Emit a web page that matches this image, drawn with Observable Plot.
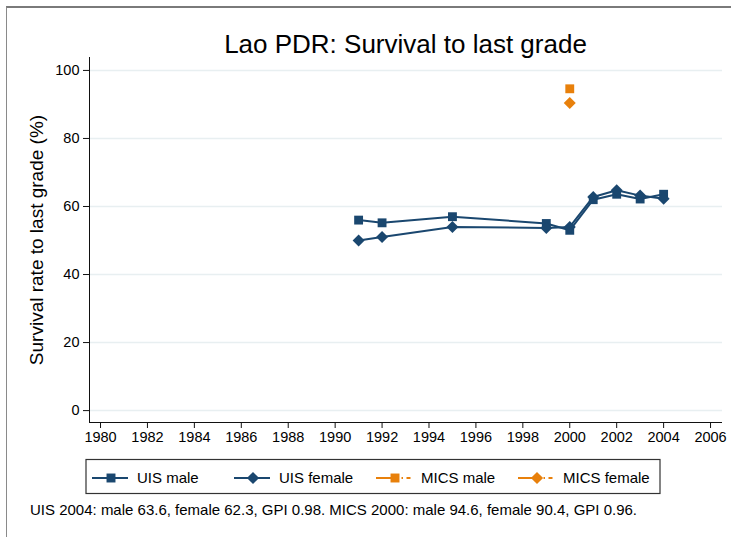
<!DOCTYPE html>
<html>
<head>
<meta charset="utf-8">
<script src="https://cdn.jsdelivr.net/npm/d3@7"></script>
<script src="https://cdn.jsdelivr.net/npm/@observablehq/plot@0.6"></script>
<style>
  html, body { margin: 0; padding: 0; background: #fff; }
  #wrap { position: relative; width: 731px; height: 537px; overflow: hidden; background: #fff;
          font-family: "Liberation Sans", Arial, Helvetica, sans-serif; color: #000; }
  #frame { position: absolute; left: 6px; top: 6px; width: 800px; height: 600px;
           border-top: 2px solid #7a7a7a; border-left: 1px solid #8a8a8a; }
  #title { position: absolute; left: 89px; width: 633px; top: 30px; text-align: center;
           font-size: 26px; line-height: 28px; }
  #chart { position: absolute; left: 0; top: 50px; }
  #legend { position: absolute; left: 0; top: 455px; }
  #caption { position: absolute; left: 30px; top: 501px; font-size: 15px; line-height: 18px; white-space: nowrap; }
</style>
</head>
<body>
<div id="wrap">
  <div id="frame"></div>
  <div id="title">Lao PDR: Survival to last grade</div>
  <div id="chart"></div>
  <div id="legend"></div>
  <div id="caption">UIS 2004: male 63.6, female 62.3, GPI 0.98. MICS 2000: male 94.6, female 90.4, GPI 0.96.</div>
</div>
<script>
// ---- data ----
const uisYears = [1991, 1992, 1995, 1999, 2000, 2001, 2002, 2003, 2004];
const uisMale = [56.0, 55.2, 57.0, 55.0, 53.0, 62.0, 63.6, 62.2, 63.6];
const uisFemale = [50.0, 51.0, 54.0, 53.7, 54.0, 62.8, 64.8, 63.2, 62.3];
const micsYears = [2000];
const micsMale = [94.6];
const micsFemale = [90.4];
const xTicks = [1980, 1982, 1984, 1986, 1988, 1990, 1992, 1994, 1996, 1998, 2000, 2002, 2004, 2006];
const yTicks = [0, 20, 40, 60, 80, 100];
const yLabel = "Survival rate to last grade (%)";
const seriesNames = ["UIS male", "UIS female", "MICS male", "MICS female"];

// ---- config ----
const navy = "#1a476f";
const orange = "#e8800b";
const xDomain = [1979.53, 2006.51];
const yDomain = [-3.5, 103.8];

const uisM = uisYears.map((y, i) => ({year: y, value: uisMale[i]}));
const uisF = uisYears.map((y, i) => ({year: y, value: uisFemale[i]}));
const micsM = micsYears.map((y, i) => ({year: y, value: micsMale[i]}));
const micsF = micsYears.map((y, i) => ({year: y, value: micsFemale[i]}));

const plot = Plot.plot({
  width: 731,
  height: 400,
  marginLeft: 89,
  marginRight: 9,
  marginTop: 7,
  marginBottom: 28,
  style: {fontFamily: "'Liberation Sans', Arial, sans-serif", background: "transparent", color: "#000"},
  x: {domain: xDomain, axis: null},
  y: {domain: yDomain, axis: null},
  marks: [
    Plot.gridY(yTicks, {stroke: "#e8eff1", strokeOpacity: 1, strokeWidth: 1.5}),
    Plot.ruleX([xDomain[0]], {stroke: "#111", strokeWidth: 1}),
    Plot.ruleY([yDomain[0]], {stroke: "#111", strokeWidth: 1}),
    Plot.axisY(yTicks, {tickSize: 6, tickPadding: 4, fontSize: 14.5, label: null, stroke: "#111"}),
    Plot.axisX(xTicks, {tickSize: 6, tickPadding: 3, fontSize: 14.5, label: null, tickFormat: d => String(d), stroke: "#111"}),
    Plot.text([yLabel], {frameAnchor: "left", textAnchor: "middle", lineAnchor: "middle", rotate: -90, dx: -53, fontSize: 19, fill: "#000"}),
    Plot.line(uisM, {x: "year", y: "value", stroke: navy, strokeWidth: 2}),
    Plot.line(uisF, {x: "year", y: "value", stroke: navy, strokeWidth: 2}),
    Plot.dot(uisM, {x: "year", y: "value", symbol: "square", r: 5, fill: navy}),
    Plot.dot(uisF, {x: "year", y: "value", symbol: "diamond2", r: 5.4, fill: navy}),
    Plot.dot(micsM, {x: "year", y: "value", symbol: "square", r: 5, fill: orange}),
    Plot.dot(micsF, {x: "year", y: "value", symbol: "diamond2", r: 5.4, fill: orange})
  ]
});
document.getElementById("chart").appendChild(plot);

// ---- legend ----
const legendItems = [
  {name: seriesNames[0], color: navy, symbol: d3.symbolSquare, size: 80, dashed: false},
  {name: seriesNames[1], color: navy, symbol: d3.symbolDiamond2, size: 95, dashed: false},
  {name: seriesNames[2], color: orange, symbol: d3.symbolSquare, size: 80, dashed: true},
  {name: seriesNames[3], color: orange, symbol: d3.symbolDiamond2, size: 95, dashed: true}
];
const lsvg = d3.select("#legend").append("svg").attr("width", 731).attr("height", 45);
lsvg.append("rect").attr("x", 86).attr("y", 4.5).attr("width", 574).attr("height", 34)
  .attr("fill", "#fff").attr("stroke", "#333").attr("stroke-width", 1.2);
const cy = 23;
legendItems.forEach((it, i) => {
  const cx = 92 + i * 142;
  const g = lsvg.append("g");
  const ln = g.append("line").attr("x1", cx).attr("x2", cx + 36).attr("y1", cy).attr("y2", cy)
    .attr("stroke", it.color).attr("stroke-width", 2);
  if (it.dashed) ln.attr("stroke-dasharray", "22 3.5 1.5 3.5 4 20");
  g.append("path").attr("d", d3.symbol(it.symbol, it.size)())
    .attr("transform", `translate(${cx + 19},${cy})`).attr("fill", it.color);
  g.append("text").attr("x", cx + 45).attr("y", cy).attr("dy", "0.35em")
    .attr("font-size", 15).attr("font-family", "'Liberation Sans', Arial, sans-serif").text(it.name);
});
</script>
</body>
</html>
